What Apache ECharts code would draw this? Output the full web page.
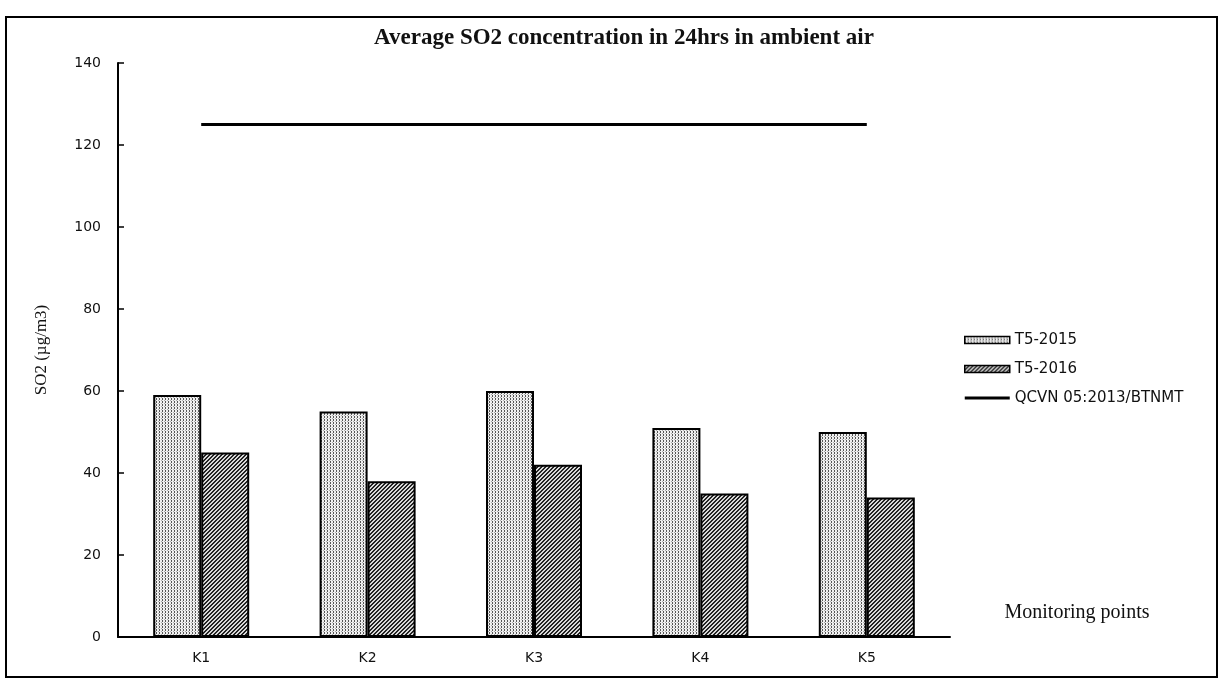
<!DOCTYPE html>
<html>
<head>
<meta charset="utf-8">
<script src="https://cdn.jsdelivr.net/npm/echarts@6/dist/echarts.min.js"></script>
<style>html,body{margin:0;padding:0;background:#fff}#c{width:1222px;height:679px}</style>
</head>
<body>
<div id="c"></div>
<script>
var categories = ['K1', 'K2', 'K3', 'K4', 'K5'];
var t2015 = [59, 55, 60, 51, 50];
var t2016 = [45, 38, 42, 35, 34];
var qcvn = [125, 125, 125, 125, 125];
var yTicks = { min: 0, max: 140, interval: 20 };
var titleText = 'Average SO2 concentration in 24hrs in ambient air';
var yName = 'SO2 (\u00b5g/m3)';
var xName = 'Monitoring points';
var seriesNames = ['T5-2015', 'T5-2016', 'QCVN 05:2013/BTNMT'];

function makePattern(kind) {
  var c = document.createElement('canvas');
  var ctx = c.getContext('2d');
  if (kind === 'dots') {
    c.width = 3; c.height = 3;
    ctx.fillStyle = '#f0f0f0'; ctx.fillRect(0, 0, 3, 3);
    ctx.fillStyle = '#555';
    ctx.fillRect(0, 0, 1, 1);
    ctx.fillRect(0, 2, 1, 1);
    ctx.fillStyle = '#aaa';
    ctx.fillRect(2, 1, 1, 1);
  } else {
    c.width = 4; c.height = 4;
    ctx.fillStyle = '#d8d8d8'; ctx.fillRect(0, 0, 4, 4);
    ctx.fillStyle = '#222';
    for (var i = 0; i < 4; i++) {
      ctx.fillRect(3 - i, i, 1, 1);
      ctx.fillRect((4 - i) % 4, i, 1, 1);
    }
  }
  return { image: c, repeat: 'repeat' };
}

var chart = echarts.init(document.getElementById('c'), null, { renderer: 'canvas' });
var sans = 'DejaVu Sans';
var serif = 'Liberation Serif';
chart.setOption({
  backgroundColor: '#fff',
  animation: false,
  title: {
    text: titleText,
    left: 619,
    top: 22,
    textAlign: 'center',
    textStyle: { fontFamily: serif, fontWeight: 'bold', fontSize: 23, color: '#111' }
  },
  legend: {
    orient: 'vertical',
    left: 959,
    top: 327,
    itemWidth: 45,
    itemHeight: 7,
    itemGap: 13,
    itemStyle: { borderWidth: 1.5, borderColor: '#000' },
    textStyle: { fontFamily: sans, fontSize: 15, color: '#111', lineHeight: 16 },
    data: [
      { name: seriesNames[0], icon: 'rect' },
      { name: seriesNames[1], icon: 'rect' },
      { name: seriesNames[2], icon: 'path://M0,0 H45 V3 H0 Z', itemStyle: { color: '#000', borderWidth: 0 } }
    ]
  },
  grid: { left: 118, right: 272, top: 63, bottom: 42 },
  xAxis: {
    type: 'category',
    data: categories,
    axisLine: { lineStyle: { color: '#000', width: 2 } },
    axisTick: { inside: true, length: 7, lineStyle: { color: '#000', width: 1.5 } },
    axisLabel: { fontFamily: sans, fontSize: 14, color: '#111', margin: 14 }
  },
  yAxis: {
    type: 'value',
    min: yTicks.min, max: yTicks.max, interval: yTicks.interval,
    name: yName,
    nameLocation: 'middle',
    nameGap: 68,
    nameTextStyle: { fontFamily: serif, fontSize: 17, color: '#111' },
    axisLine: { show: true, lineStyle: { color: '#000', width: 2 } },
    axisTick: { show: true, inside: true, length: 6, lineStyle: { color: '#000', width: 1.5 } },
    axisLabel: { fontFamily: sans, fontSize: 14, color: '#111', margin: 17 },
    splitLine: { show: false }
  },
  series: [
    {
      name: seriesNames[0], type: 'bar', data: t2015,
      barWidth: 48, barGap: '0%',
      itemStyle: { color: makePattern('dots'), borderColor: '#000', borderWidth: 2 }
    },
    {
      name: seriesNames[1], type: 'bar', data: t2016,
      barWidth: 48,
      itemStyle: { color: makePattern('hatch'), borderColor: '#000', borderWidth: 2 }
    },
    {
      name: seriesNames[2], type: 'line', data: qcvn,
      symbol: 'none', showSymbol: false,
      lineStyle: { color: '#000', width: 3 },
      itemStyle: { color: '#000' }
    }
  ],
  graphic: [
    {
      type: 'rect', silent: true, z: 100,
      shape: { x: 6, y: 17, width: 1211, height: 660 },
      style: { fill: 'none', stroke: '#000', lineWidth: 2 }
    },
    {
      type: 'text', z: 100,
      x: 1077, y: 613,
      style: {
        text: xName, fontFamily: serif, fontSize: 20, fill: '#111',
        align: 'center', verticalAlign: 'middle'
      }
    }
  ]
});
</script>
</body>
</html>
